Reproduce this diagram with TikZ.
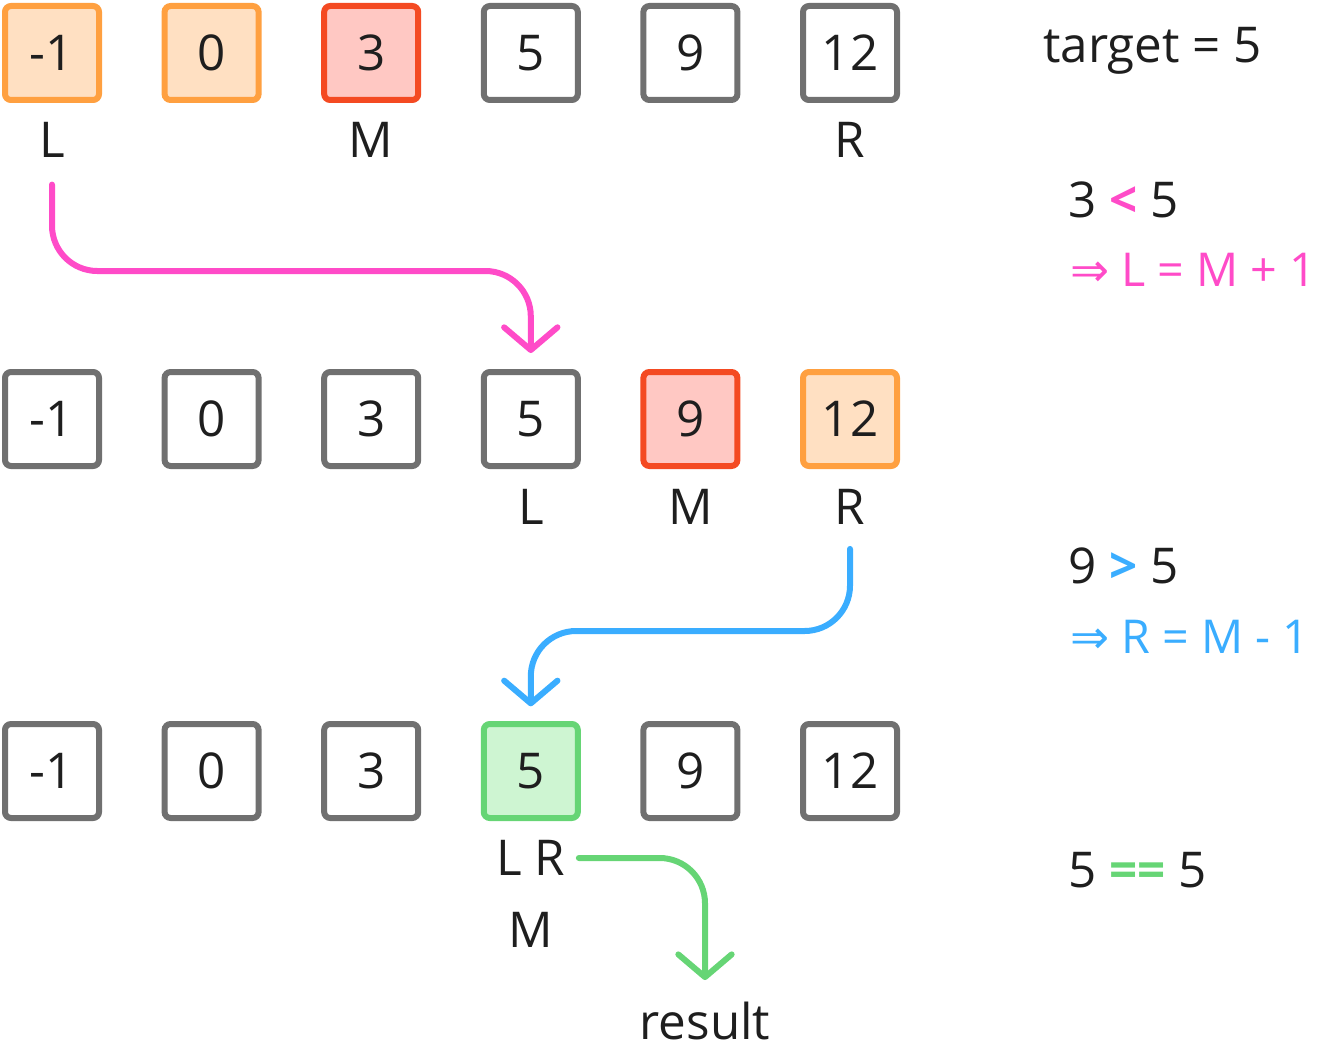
\documentclass[tikz,border=0pt]{standalone}
\usepackage{fontspec}
\setmainfont{Open Sans}
\newfontfamily\arrowfont{DejaVu Sans}
\usetikzlibrary{arrows.meta,calc}
\definecolor{inkdark}{HTML}{1E1E1E}
\definecolor{cellgray}{HTML}{707070}
\definecolor{rangeline}{HTML}{FFA040}
\definecolor{rangefill}{HTML}{FFE0C2}
\definecolor{midline}{HTML}{F44A22}
\definecolor{midfill}{HTML}{FFC8C3}
\definecolor{foundline}{HTML}{66D575}
\definecolor{foundfill}{HTML}{CEF5D2}
\definecolor{pinkink}{HTML}{FF4BC8}
\definecolor{blueink}{HTML}{3AADFF}
\tikzset{
    bigtext/.style ={font=\fontsize{37}{40}\selectfont, text=inkdark, inner sep=0pt, text height=26.5pt, text depth=0pt},
    cellplain/.style ={rectangle, bigtext, minimum size=70.5pt, line width=4.5pt, rounded corners=4.5pt, draw=cellgray, fill=white},
    cellrange/.style ={cellplain, draw=rangeline, fill=rangefill},
    cellmid/.style ={cellplain, draw=midline, fill=midfill},
    cellfound/.style ={cellplain, draw=foundline, fill=foundfill},
    lbl/.style ={bigtext},
    note/.style ={bigtext, anchor=west},
    upd/.style ={note, font=\fontsize{35}{40}\selectfont, text height=25pt},
    jump/.style ={line width=4.5pt, line cap=round, rounded corners=34pt, -{Straight Barb[length=17pt,width=40pt,round]}}}
\begin{document}
\begin{tikzpicture}[x=0.75pt,y=-0.75pt]
        \useasboundingbox (0,0) rectangle (1317,1049);
        % first step
        \foreach \v/\s [count=\i] in {-1/cellrange,0/cellrange,3/cellmid,5/cellplain,9/cellplain,12/cellplain}
            \node[\s] (ra\i) at ({52+159.6*(\i-1)},53) {\v};
        \node[lbl] (La) at (ra1 |- 0,140) {L};
        \node[lbl] (Ma) at (ra3 |- 0,140) {M};
        \node[lbl] (Ra) at (ra6 |- 0,140) {R};
        % second step
        \foreach \v/\s [count=\i] in {-1/cellplain,0/cellplain,3/cellplain,5/cellplain,9/cellmid,12/cellrange}
            \node[\s] (rb\i) at ({52+159.6*(\i-1)},419) {\v};
        \node[lbl] (Lb) at (rb4 |- 0,507) {L};
        \node[lbl] (Mb) at (rb5 |- 0,507) {M};
        \node[lbl] (Rb) at (rb6 |- 0,507) {R};
        % third step
        \foreach \v/\s [count=\i] in {-1/cellplain,0/cellplain,3/cellplain,5/cellfound,9/cellplain,12/cellplain}
            \node[\s] (rc\i) at ({52+159.6*(\i-1)},771) {\v};
        \node[lbl] (LRc) at (rc4 |- 0,858) {L R};
        \node[lbl] (Mc) at (rc4 |- 0,930) {M};
        \node[lbl] (res) at (705,1022) {result};
        % notes
        \node[note] (tgt) at (1043,45) {target = 5};
        \node[note] (cmpa) at (1068,200) {3 {\bfseries\color{pinkink}<} 5};
        \node[upd, text=pinkink] (upda) at (1070,270) {{\arrowfont ⇒} L = M + 1};
        \node[note] (cmpb) at (1068,566) {9 {\bfseries\color{blueink}>} 5};
        \node[upd, text=blueink] (updb) at (1070,637) {{\arrowfont ⇒} R = M - 1};
        \node[note] (cmpc) at (1068,870) {5 {\bfseries\color{foundline}==} 5};
        % moves
        \draw[jump, pinkink, shorten <=20pt, shorten >=12pt] (La.south) |- ($(rb4.north)+(0,-98)$) -- (rb4.north);
        \draw[jump, blueink, shorten <=18pt, shorten >=11pt] (Rb.south) |- ($(rc4.north)+(0,-90)$) -- (rc4.north);
        \draw[jump, foundline, shorten <=10pt, shorten >=18pt] (LRc.east) -| (res.north);
    \end{tikzpicture}
\end{document}
